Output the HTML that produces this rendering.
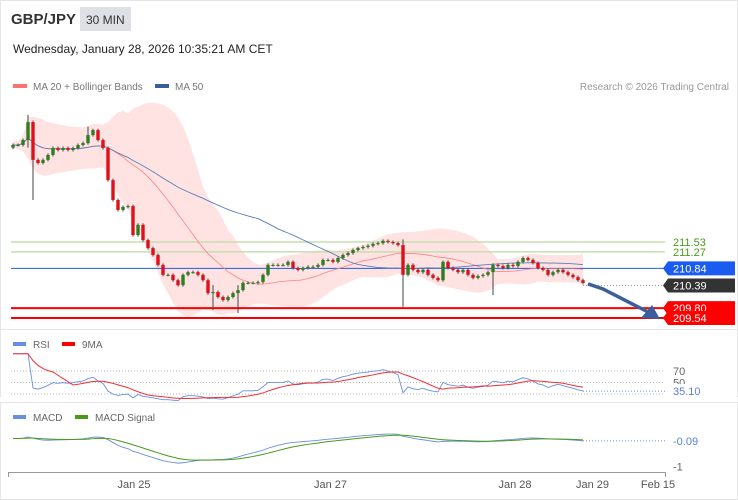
<!DOCTYPE html>
<html><head><meta charset="utf-8"><style>
body{margin:0;background:#fff;font-family:"Liberation Sans",sans-serif;}
#wrap{position:relative;width:738px;height:500px;overflow:hidden;}
svg text{font-family:"Liberation Sans",sans-serif;}
</style></head><body>
<div id="wrap">
<svg id="svg" width="738" height="500" xmlns="http://www.w3.org/2000/svg">
<rect x="0.5" y="0.5" width="737" height="499" fill="#fff" stroke="#e6e6e6"/>
<text x="11" y="24" font-size="15" font-weight="bold" fill="#333">GBP/JPY</text>
<rect x="80" y="7" width="51" height="24" fill="#dde0e4"/>
<text x="86" y="24" font-size="12" fill="#333">30 MIN</text>
<text x="13" y="53" font-size="12" fill="#222">Wednesday, January 28, 2026 10:35:21 AM CET</text>
<rect x="13" y="84" width="14" height="4" fill="#ff7070"/>
<text x="33" y="90" font-size="10" fill="#777">MA 20 + Bollinger Bands</text>
<rect x="155" y="84" width="14" height="4" fill="#3a5f9a"/>
<text x="175" y="90" font-size="10" fill="#777">MA 50</text>
<text x="729" y="90" font-size="10" fill="#999" text-anchor="end">Research © 2026 Trading Central</text>
<line x1="0" y1="329.5" x2="738" y2="329.5" stroke="#e6e6e6"/>
<line x1="0" y1="402.5" x2="738" y2="402.5" stroke="#e6e6e6"/>
<g id="price"></g><g id="rsi"></g><g id="macd"></g><g id="axis"></g>
</svg>
</div>
<script>
const closes=[214.07,214.07,214.20,214.67,213.68,213.60,213.68,213.81,213.99,213.94,213.99,213.94,213.99,214.07,214.12,214.33,214.46,214.20,213.99,
213.15,212.63,212.37,212.45,212.47,211.71,211.98,211.58,211.37,211.19,210.93,210.67,210.67,210.53,210.40,210.67,210.74,210.74,210.67,210.53,210.19,210.22,210.09,210.01,210.09,210.19,210.27,210.46,210.46,210.46,210.48,210.67,210.93,210.93,210.93,210.93,211.01,210.85,210.80,210.85,210.88,210.88,210.93,211.06,211.06,211.01,211.11,211.19,211.24,211.32,211.37,211.40,211.43,211.48,211.50,211.56,211.53,211.50,211.45,210.67,210.93,210.80,210.74,210.80,210.67,210.59,210.53,211.01,210.85,210.80,210.74,210.80,210.67,210.59,210.64,210.67,210.74,210.93,210.90,210.85,210.93,210.90,211.01,211.11,211.06,210.98,210.85,210.80,210.67,210.74,210.80,210.74,210.67,210.61,210.53,210.46];
const firstOpen=214.0;
const spikeIdx=[3,4,15,40,45,78,96];
const spikeLow=[214.0,212.63,214.3,209.75,209.67,209.83,210.14];
const spikeHigh=[214.86,213.8,214.55,210.4,210.4,211.6,210.9];
const levelValues=[211.53,211.27,210.84,210.39,209.80,209.54];
const levelLabels=["211.53","211.27","210.84","210.39","209.80","209.54"];
const dateLabels=["Jan 25","Jan 27","Jan 28","Jan 29","Feb 15"];
const dateIndex=[24.2,63.5,100.4,115.9,129];
const rsiTicks=[70,50,30];
const macdTicks=[0,-1];

const NS="http://www.w3.org/2000/svg";
function mk(tag,attrs,parent){const e=document.createElementNS(NS,tag);for(const k in attrs)e.setAttribute(k,attrs[k]);parent.appendChild(e);return e;}
const N=closes.length;
const X=i=>13+i*(583-13)/(N-1);
const Y=p=>242+(211.53-p)*38.19;
const RY=v=>371+(70-v)*0.575;
const MY=v=>441+(-0.09-v)*28;

const pg=document.getElementById('price');
const ma20=[],up=[],lo=[],ma50=[];
for(let i=0;i<N;i++){
 const w=closes.slice(Math.max(0,i-19),i+1);const m=w.reduce((a,b)=>a+b,0)/w.length;
 const sd=Math.sqrt(w.reduce((a,b)=>a+(b-m)*(b-m),0)/w.length);
 ma20.push(m);up.push(m+1.8*sd+0.1);lo.push(m-1.8*sd-0.1);
 const w5=closes.slice(Math.max(0,i-49),i+1);ma50.push(w5.reduce((a,b)=>a+b,0)/w5.length);
}
let bd="M"+X(0)+","+Y(up[0]);
for(let i=1;i<N;i++)bd+=" L"+X(i)+","+Y(up[i]);
for(let i=N-1;i>=0;i--)bd+=" L"+X(i)+","+Y(lo[i]);
const band=mk('path',{d:bd+"Z",fill:"#ffdcdc","fill-opacity":"0.8"},pg);


const lvColors=["#c5dfb0","#c5dfb0","#1a5cf0","#555","#f00","#f00"];
levelValues.forEach((v,k)=>{
 const y=Y(v);
 const l=k==3?mk('line',{x1:X(N-1),x2:663,y1:y,y2:y,stroke:"#999","stroke-dasharray":"1,2"},pg):
  mk('line',{x1:11,x2:665,y1:y,y2:y,stroke:lvColors[k],"stroke-width":k>=4?2:(k==2?1:1.5)},pg);
 
 
});
const pl=(arr,f,col,w,par,name)=>{let d="";arr.forEach((v,i)=>{d+=(i?" L":"M")+X(i)+","+f(v);});const p=mk('path',{d:d,fill:"none",stroke:col,"stroke-width":w},par);return p;};
pl(ma20,Y,"#ff8080",0.8,pg,'ma20-line');
pl(ma50,Y,"#5a7fb5",0.9,pg,'ma50-line');
for(let i=0;i<N;i++){
 const o=i?closes[i-1]:firstOpen,c=closes[i];
 let h=Math.max(o,c)+0.04,l=Math.min(o,c)-0.04;
 const s=spikeIdx.indexOf(i);if(s>=0){h=Math.max(h,spikeHigh[s]);l=Math.min(l,spikeLow[s]);}
 const col=c>=o?"#2e7d1e":"#e0101a";
 const wk=mk('line',{x1:X(i),x2:X(i),y1:Y(h),y2:Y(l),stroke:"#444","stroke-width":1},pg);
 
 
 const bt=Y(Math.max(o,c)),bb=Y(Math.min(o,c));
 const r=mk('rect',{x:X(i)-1.7,y:bt,width:3.4,height:Math.max(1,bb-bt),fill:col},pg);
 
 
}
const ar=mk('path',{d:`M${X(N-1)+5},${Y(closes[N-1])+1} L603,289 L650,313`,fill:"none",stroke:"#3a5f9a","stroke-width":3.5},pg);


const ah=mk('polygon',{points:"660,319 641,318 652,305",fill:"#3a5f9a"},pg);


const boxCol=["none","none","#1a5cf0","#333","#f00","#f00"];
levelValues.forEach((v,k)=>{
 const y=Y(v);
 if(k<2){const t=mk('text',{x:673,y:y+4,"font-size":11,fill:"#4a9a1a"},pg);t.textContent=levelLabels[k];return;}
 const bx=mk('polygon',{points:`663,${y} 668,${y-7} 735,${y-7} 735,${y+7} 668,${y+7}`,fill:boxCol[k]},pg);
 
 
 const t=mk('text',{x:673,y:y+4,"font-size":11,fill:"#fff"},pg);t.textContent=levelLabels[k];
 
 
});
const rg=document.getElementById('rsi');
const rsi=[];let ag=0,al=0;
for(let i=0;i<N;i++){const ch=closes[i]-(i?closes[i-1]:firstOpen);const g=Math.max(ch,0),lss=Math.max(-ch,0);
 if(i<14){ag=(ag*i+g)/(i+1);al=(al*i+lss)/(i+1);}else{ag=(ag*13+g)/14;al=(al*13+lss)/14;}
 rsi.push(al==0?100:100-100/(1+ag/al));}
const rma=rsi.map((v,i)=>{const w=rsi.slice(Math.max(0,i-8),i+1);return w.reduce((a,b)=>a+b,0)/w.length;});
rsiTicks.forEach(v=>{const l=mk('line',{x1:11,x2:665,y1:RY(v),y2:RY(v),stroke:"#bbb","stroke-dasharray":"1,2"},rg);
 const t=mk('text',{x:673,y:RY(v)+4,"font-size":11,fill:"#666"},rg);t.textContent=v;});
const rw=mk('rect',{x:665,y:384,width:40,height:16,fill:"#fff"},rg);
const rc=mk('rect',{x:0,y:397,width:738,height:5,fill:"#fff"},rg);
pl(rsi,RY,"#6a8ee0",0.9,rg,'rsi-line');
pl(rma,RY,"#f03030",1,rg,'rsi-9ma-line');
const rl=mk('line',{x1:X(N-1),x2:665,y1:RY(rsi[N-1]),y2:RY(rsi[N-1]),stroke:"#6a8ee0","stroke-dasharray":"1,2"},rg);
const rt=mk('text',{x:673,y:RY(rsi[N-1])+4,"font-size":11,fill:"#5a7fe0"},rg);rt.textContent=rsi[N-1].toFixed(2);
[["#6a8ee0","RSI",13,33],["#f00","9MA",62,82]].forEach(a=>{const r=mk('rect',{x:a[2],y:342,width:13,height:4,fill:a[0]},rg);const t=mk('text',{x:a[3],y:348,"font-size":10,fill:"#666"},rg);t.textContent=a[1];});
const mg=document.getElementById('macd');
const ema=(arr,n)=>{const k=2/(n+1);const o=[];arr.forEach((v,i)=>o.push(i?v*k+o[i-1]*(1-k):v));return o;};
const e12=ema(closes,12),e26=ema(closes,26);const macd=e12.map((v,i)=>v-e26[i]);const sig=ema(macd,9);
macdTicks.forEach(v=>{const t=mk('text',{x:673,y:MY(v)+4,"font-size":11,fill:"#666"},mg);t.textContent=v;});
const mw=mk('rect',{x:665,y:434,width:40,height:14,fill:"#fff"},mg);
pl(macd,MY,"#6a8ee0",0.9,mg,'macd-line');
pl(sig,MY,"#4a9a1a",1,mg,'macd-signal-line');
const ml=mk('line',{x1:X(N-1),x2:665,y1:MY(macd[N-1]),y2:MY(macd[N-1]),stroke:"#6a8ee0","stroke-dasharray":"1,2"},mg);
const mt=mk('text',{x:673,y:MY(macd[N-1])+4,"font-size":11,fill:"#5a7fe0"},mg);mt.textContent=macd[N-1].toFixed(2);
[["#6a8ee0","MACD",13,33],["#4a9a1a","MACD Signal",75,95]].forEach(a=>{const r=mk('rect',{x:a[2],y:415,width:13,height:4,fill:a[0]},mg);const t=mk('text',{x:a[3],y:421,"font-size":10,fill:"#666"},mg);t.textContent=a[1];});
const ag2=document.getElementById('axis');
const ax=mk('path',{d:"M8.5,477 V472.5 H665.5 V477",fill:"none",stroke:"#999"},ag2);
dateLabels.forEach((s,k)=>{const t=mk('text',{x:X(dateIndex[k]),y:488,"font-size":11,fill:"#555","text-anchor":"middle"},ag2);t.textContent=s;});
</script>
</body></html>
